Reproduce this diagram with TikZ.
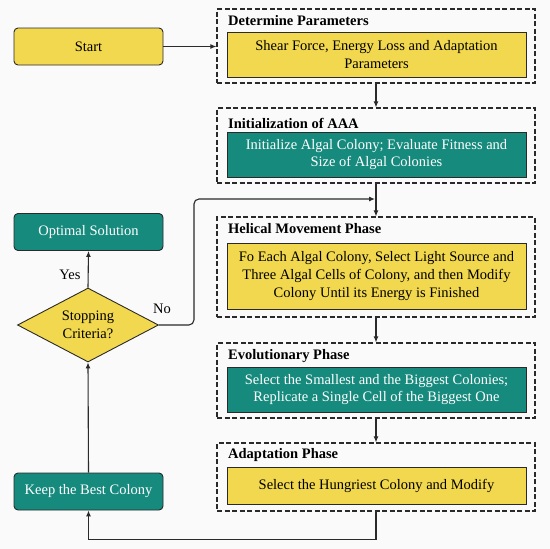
\documentclass[tikz,border=0pt]{standalone}
\usepackage{fontspec}
\setmainfont{Liberation Serif}
\usetikzlibrary{arrows.meta,shapes.geometric}
\definecolor{ayellow}{HTML}{F2D84E}
\definecolor{ateal}{HTML}{178A7E}
\definecolor{aline}{HTML}{2A2A2A}
\begin{document}
\begin{tikzpicture}[x=1pt,y=-1pt,
  font=\fontsize{14.5}{17.8}\selectfont,
  phase/.style={draw=aline, dash pattern=on 5pt off 2.5pt, line width=1.2pt, minimum width=318pt, inner sep=0pt},
  inbox/.style={draw=aline, line width=0.9pt, minimum width=299pt, align=center, inner sep=0pt},
  ybox/.style={inbox, fill=ayellow, text=black},
  tbox/.style={inbox, fill=ateal, text=white},
  title/.style={anchor=west, font=\fontsize{14.5}{17}\selectfont\bfseries, inner sep=0pt},
  rbox/.style={draw=aline, line width=0.9pt, rounded corners=4pt, minimum width=149pt, minimum height=37pt, inner sep=0pt},
  arr/.style={draw=aline, line width=1.1pt, -{Latex[length=6pt,width=5pt]}},
  lbl/.style={inner sep=1pt}
]
\useasboundingbox (0,0) rectangle (550,549);
\fill[white!98!black] (0,0) rectangle (550,549);

% left column
\node[rbox, fill=ayellow] (start) at (88.5,46.5) {Start};
\node[rbox, fill=ateal, text=white] (opt) at (88.5,232) {Optimal Solution};
\node[draw=aline, line width=0.9pt, fill=ayellow, diamond, minimum width=141pt, minimum height=74pt, inner sep=0pt, aspect=2, align=center] (dia) at (88,325) {Stopping\\Criteria?};
\node[rbox, fill=ateal, text=white] (keep) at (88.5,491.5) {Keep the Best Colony};

% phases
\node[phase, minimum height=74pt] (det) at (376,46) {};
\node[title] (dett) at (228,21) {Determine Parameters};
\node[ybox, minimum height=45pt] (deti) at (376.5,54.5) {Shear Force, Energy Loss and Adaptation\\Parameters};

\node[phase, minimum height=75pt] (init) at (376,145.5) {};
\node[title] (initt) at (228,123) {Initialization of AAA};
\node[tbox, minimum height=45pt] (initi) at (376.5,154.5) {Initialize Algal Colony; Evaluate Fitness and\\Size of Algal Colonies};

\node[phase, minimum height=100pt] (hel) at (376,267) {};
\node[title] (helt) at (228,229) {Helical Movement Phase};
\node[ybox, minimum height=66pt] (heli) at (376.5,276) {Fo Each Algal Colony, Select Light Source and\\Three Algal Cells of Colony, and then Modify\\Colony Until its Energy is Finished};

\node[phase, minimum height=75pt] (evo) at (376,380.5) {};
\node[title] (evot) at (228,356) {Evolutionary Phase};
\node[tbox, minimum height=45pt] (evoi) at (376.5,389.5) {Select the Smallest and the Biggest Colonies;\\Replicate a Single Cell of the Biggest One};

\node[phase, minimum height=68pt] (ada) at (376,477) {};
\node[title] (adat) at (228,455) {Adaptation Phase};
\node[ybox, minimum height=37pt] (adai) at (376.5,485.5) {Select the Hungriest Colony and Modify};

% connectors
\draw[arr] (start.east) -- (start.east -| det.west);
\draw[arr] (det.south) -- (init.north);
\draw[arr] (init.south) -- (hel.north);
\coordinate (j) at (375,199);
\draw[arr, rounded corners=5pt] (dia.east) -- ++(35,0) |- (j);
\draw[arr] (hel.south) -- (evo.north);
\draw[arr] (evo.south) -- (ada.north);
\draw[arr] (ada.south) -- ++(0,28) -| (keep.south);
\draw[arr] (keep.north) -- (dia.south);
\draw[arr] (dia.north) -- (opt.south);
\node[lbl] (yes) at (70,275) {Yes};
\node[lbl] (no) at (162,309) {No};
\end{tikzpicture}
\end{document}
